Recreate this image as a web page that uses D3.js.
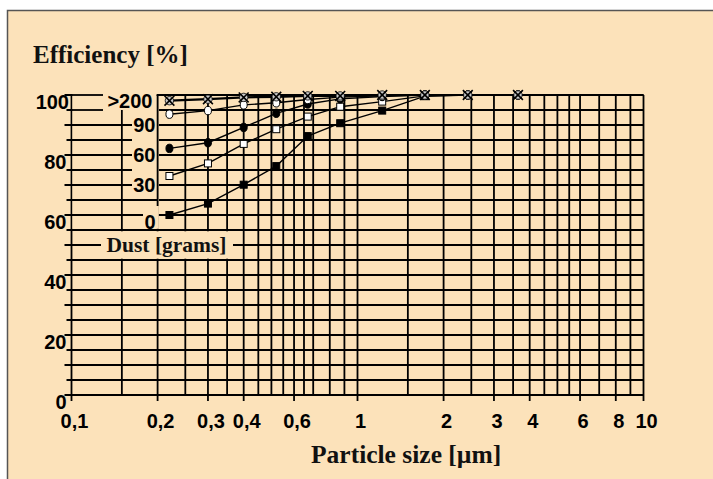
<!DOCTYPE html>
<html>
<head>
<meta charset="utf-8">
<script src="https://cdn.jsdelivr.net/npm/d3@7"></script>
<style>
    body { margin: 0; background: #fff; }
    svg { display: block; }
    .num { font-family: "Liberation Sans", Arial, sans-serif; font-weight: bold; font-size: 20px; fill: #000; }
    .ttl { font-family: "Liberation Serif", "Times New Roman", serif; font-weight: bold; fill: #111; }
</style>
</head>
<body>
<div id="chart"></div>
<script>
// particle sizes [um] where efficiency was measured
const sizes = [0.22, 0.3, 0.4, 0.52, 0.67, 0.87, 1.22, 1.72, 2.43, 3.64];

// efficiency [%] for each dust load
const dust0   = [60.0, 63.8, 70.1, 76.3, 86.3, 90.6, 94.8, 99.6, 100, 100];
const dust30  = [73.0, 77.2, 83.7, 88.6, 92.8, 96.1, 97.8, 99.7, 100, 100];
const dust60  = [82.2, 84.1, 89.2, 93.9, 97.0, 98.7, 99.5, 100, 100, 100];
const dust90  = [93.6, 94.8, 96.7, 97.4, 98.5, 99.3, 99.7, 100, 100, 100];
const dust200 = [98.1, 98.6, 99.2, 99.4, 99.7, 99.7, 100, 100, 100, 100];

const dustNames = ["0", "30", "60", "90", ">200"];

const xTicks = [0.1, 0.2, 0.3, 0.4, 0.6, 1, 2, 3, 4, 6, 8, 10];
const xGrid = [0.1, 0.15, 0.2, 0.25, 0.3, 0.35, 0.4, 0.45, 0.5, 0.55, 0.6, 0.65, 0.7, 0.8, 0.9,
    1, 1.5, 2, 2.5, 3, 3.5, 4, 4.5, 5, 5.5, 6, 7, 8, 9, 10];
const yTicks = [0, 20, 40, 60, 80, 100];
const yGrid = d3.range(0, 101, 5);

const W = 713, H = 479;
const bg = "#fce2ba";
const gridW = 1.8;

let svg = d3.select("#chart")
    .append("svg")
    .attr("width", W)
    .attr("height", H);

// panel
svg.append("rect")
    .attr("x", 7.5).attr("y", 10.5)
    .attr("width", 720).attr("height", 480)
    .attr("fill", bg)
    .attr("stroke", "#555")
    .attr("stroke-width", 1.5);

let x = d3.scaleLog().domain([0.1, 10]).range([71.5, 643.5]);
let y = d3.scaleLinear().domain([0, 100]).range([395, 95]);

let grid = svg.append("g").attr("stroke", "#000").attr("stroke-width", gridW);

// vertical grid, labelled ones poke below the axis
grid.selectAll(".vg")
    .data(xGrid)
    .join("line")
    .attr("class", "vg")
    .attr("x1", d => x(d)).attr("x2", d => x(d))
    .attr("y1", y(100))
    .attr("y2", d => y(0) + (xTicks.includes(d) ? 6 : 0));

// horizontal grid with small ticks on the left
grid.selectAll(".hg")
    .data(yGrid)
    .join("line")
    .attr("class", "hg")
    .attr("x1", d => x(0.1) - (d % 10 == 0 ? 7 : 5))
    .attr("x2", x(10))
    .attr("y1", d => y(d)).attr("y2", d => y(d));

// the dust legend sits inside the 0.1-0.2 / 55-100 corner
svg.append("rect")
    .attr("x", x(0.1) + 1).attr("y", y(100) - 2)
    .attr("width", x(0.2) - x(0.1) + 0.2).attr("height", y(55) - y(100) + 0.8)
    .attr("fill", bg);

function insetEnd(level) {
    if (level >= 95) return 103;
    if (level == 65) return x(0.2);
    if (level == 60) return 143;
    return 132;
}

let inset = svg.append("g").attr("stroke", "#000").attr("stroke-width", gridW);
inset.selectAll(".ih")
    .data(yGrid.filter(d => d >= 60))
    .join("line")
    .attr("class", "ih")
    .attr("x1", x(0.1))
    .attr("x2", d => insetEnd(d))
    .attr("y1", d => y(d)).attr("y2", d => y(d));
inset.append("line")
    .attr("x1", x(0.2) - 1).attr("x2", x(10))
    .attr("y1", y(100)).attr("y2", y(100));
inset.append("line")
    .attr("x1", x(0.15)).attr("x2", x(0.15))
    .attr("y1", y(95)).attr("y2", y(55));
inset.append("line")
    .attr("x1", x(0.2)).attr("x2", x(0.2))
    .attr("y1", y(100)).attr("y2", y(63));

// label levels of the legend entries, top to bottom
const legendLevels = [97.9, 90, 80, 70, 57.6];
svg.selectAll(".dl")
    .data(dustNames.slice().reverse())
    .join("text")
    .attr("class", "num dl")
    .attr("text-anchor", "end")
    .attr("x", (d, i) => i == 0 ? 152.5 : 155.5)
    .attr("y", (d, i) => y(legendLevels[i]) + 7)
    .text(d => d);

// "Dust [grams]" box breaks the grid
svg.append("rect")
    .attr("x", 101).attr("y", y(55) + 1.3)
    .attr("width", 132).attr("height", y(45) - y(55) - 2.6)
    .attr("fill", bg);
svg.append("text")
    .attr("class", "ttl")
    .attr("x", 106.5).attr("y", 252)
    .style("font-size", "21.5px")
    .text("Dust [grams]");

// axis labels
svg.selectAll(".xl")
    .data(xTicks)
    .join("text")
    .attr("class", "num xl")
    .attr("text-anchor", "middle")
    .attr("x", d => x(d) + 3)
    .attr("y", 427.5)
    .text(d => String(d).replace(".", ","));

svg.selectAll(".yl")
    .data(yTicks)
    .join("text")
    .attr("class", "num yl")
    .attr("text-anchor", "end")
    .attr("x", d => d == 100 ? 69 : 66.5)
    .attr("y", d => y(d) + 14)
    .text(d => d);

svg.append("text")
    .attr("class", "ttl")
    .attr("x", 33).attr("y", 63)
    .style("font-size", "25px")
    .text("Efficiency [%]");

svg.append("text")
    .attr("class", "ttl")
    .attr("x", 311).attr("y", 463)
    .style("font-size", "25.5px")
    .text("Particle size [\u00b5m]");

// series
let series = [
    { name: "0", values: dust0, shape: "square", fill: "#000" },
    { name: "30", values: dust30, shape: "square", fill: "#fff" },
    { name: "60", values: dust60, shape: "circle", fill: "#000" },
    { name: "90", values: dust90, shape: "circle", fill: "#fff" },
    { name: ">200", values: dust200, shape: "cross", fill: "#c8c8c8" }
];

let line = d3.line()
    .x((d, i) => x(sizes[i]))
    .y(d => y(d));

series.forEach(function (s) {
    let g = svg.append("g");
    g.append("path")
        .attr("d", line(s.values))
        .attr("fill", "none")
        .attr("stroke", "#000")
        .attr("stroke-width", s.shape == "cross" ? 2.2 : 1.4);

    let pts = g.selectAll("g.pt")
        .data(s.values)
        .join("g")
        .attr("class", "pt")
        .attr("transform", (d, i) => `translate(${x(sizes[i])}, ${y(d)})`);

    if (s.shape == "square") {
        pts.append("rect")
            .attr("x", -3.5).attr("y", -3.5)
            .attr("width", 7).attr("height", 7)
            .attr("fill", s.fill)
            .attr("stroke", "#000")
            .attr("stroke-width", 1);
    } else if (s.shape == "circle") {
        pts.append("ellipse")
            .attr("rx", 3.5).attr("ry", 4.2)
            .attr("fill", s.fill)
            .attr("stroke", "#000")
            .attr("stroke-width", 1);
    } else {
        pts.append("circle")
            .attr("r", 4.2)
            .attr("fill", s.fill)
            .attr("stroke", "#000")
            .attr("stroke-width", 0.8);
        pts.append("path")
            .attr("d", d3.symbol(d3.symbolX).size(65))
            .attr("fill", "none")
            .attr("stroke", "#000")
            .attr("stroke-width", 1.6);
    }
});
</script>
</body>
</html>
